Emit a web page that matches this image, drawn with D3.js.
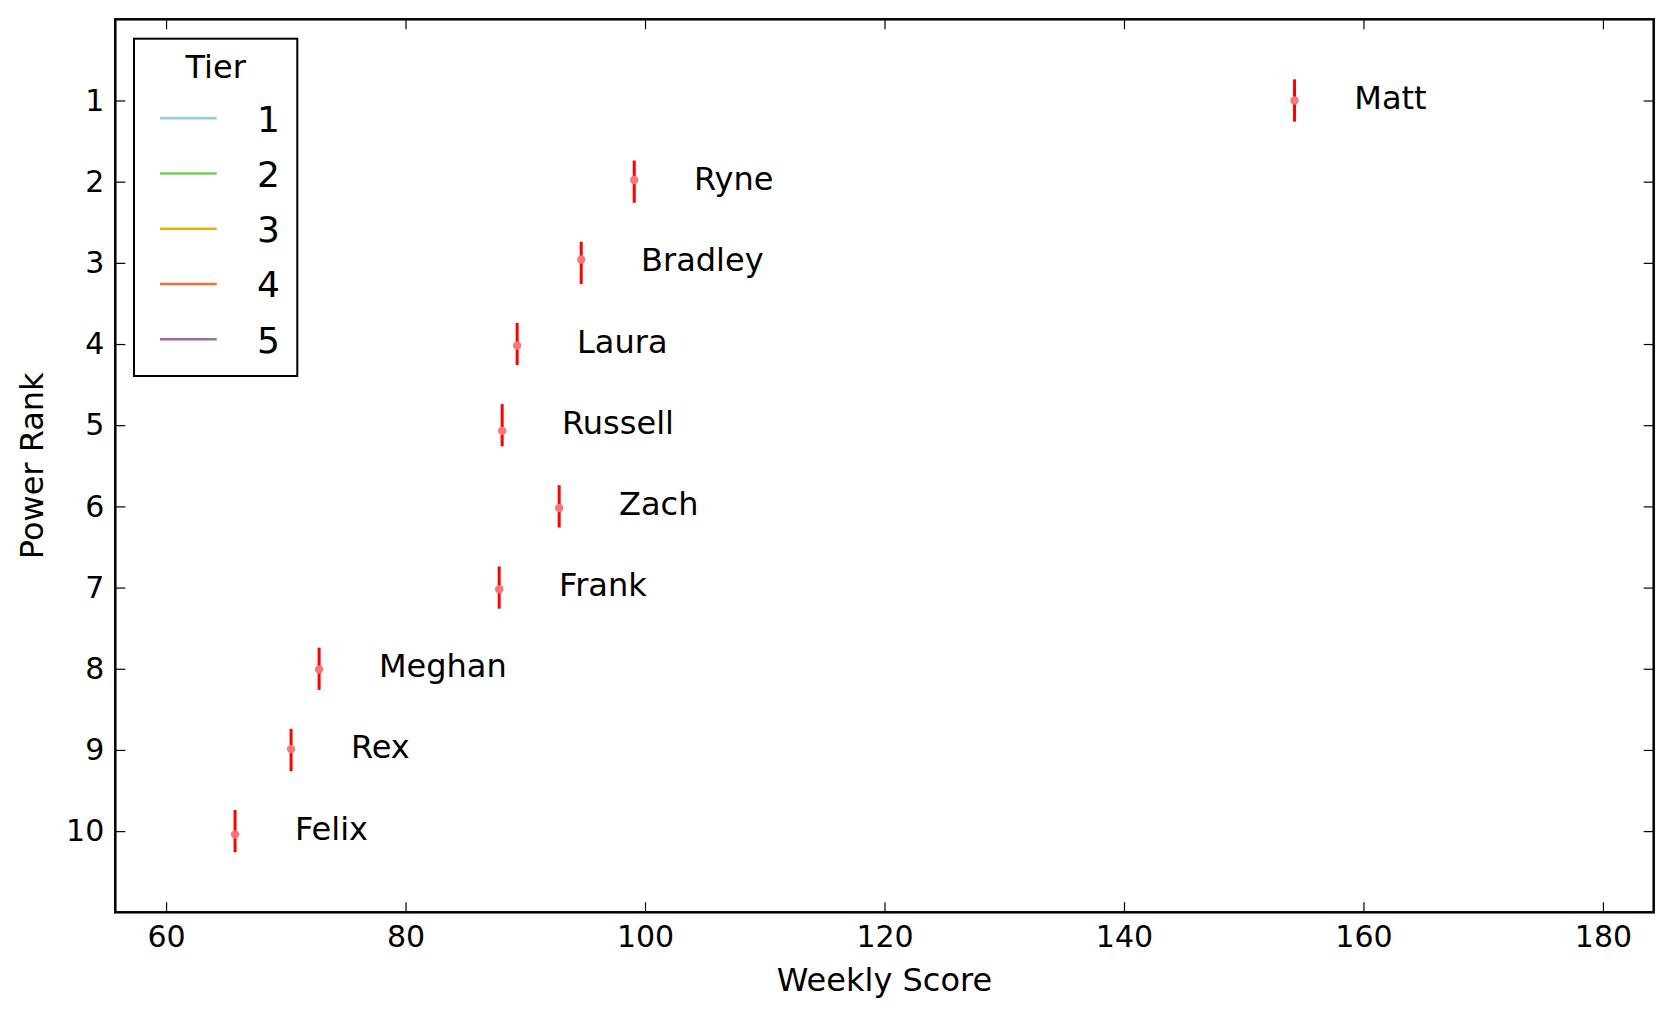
<!DOCTYPE html>
<html>
<head>
<meta charset="utf-8">
<script src="https://cdn.jsdelivr.net/npm/d3@7"></script>
<style>
    body { margin: 0; background: #fff; }
    text { font-family: "DejaVu Sans", sans-serif; }
</style>
</head>
<body>
<div id="rank-chart"><svg></svg></div>
<script>
// data
var names = ["Matt", "Ryne", "Bradley", "Laura", "Russell", "Zach", "Frank", "Meghan", "Rex", "Felix"];
var ranks = [1, 2, 3, 4, 5, 6, 7, 8, 9, 10];
var scores = [154.24, 99.1, 94.67, 89.32, 88.07, 92.83, 87.82, 72.78, 70.44, 65.76];
var dotRanks = [1.0, 1.98, 2.96, 4.02, 5.07, 6.02, 7.02, 8.01, 8.99, 10.04];
var rankErr = 0.26;
var tiers = ["1", "2", "3", "4", "5"];
var tierColors = ["#8ccdf5", "#78c85a", "#e0b400", "#ff6a33", "#a06ca0"];
var xTicks = [60, 80, 100, 120, 140, 160, 180];

var data = names.map(function (n, i) {
    return {name: n, rank: ranks[i], score: scores[i], dot: dotRanks[i]};
});

// set the dimensions and margins of the graph
var margin = {top: 19.3, right: 17.3, bottom: 104.7, left: 115.3},
    width = 1671 - margin.left - margin.right,
    height = 1017 - margin.top - margin.bottom;

// set the ranges
var x = d3.scaleLinear()
    .domain([d3.min(scores) - 10, d3.max(scores) + 30])
    .range([0, width]);
var y = d3.scaleLinear().domain([0, 11]).range([0, height]);

var svg = d3.select("#rank-chart").select("svg")
    .attr("width", width + margin.left + margin.right)
    .attr("height", height + margin.top + margin.bottom)
    .append("g")
    .attr("transform", "translate(" + margin.left + "," + margin.top + ")");

// axes, ticks pointing inward on all four sides
var xAxis = svg.append("g")
    .attr("transform", "translate(0," + height + ")")
    .call(d3.axisBottom(x).tickValues(xTicks).tickSize(-10).tickPadding(13));
var xTop = svg.append("g")
    .call(d3.axisTop(x).tickValues(xTicks).tickSize(-10).tickFormat(""));
var yAxis = svg.append("g")
    .call(d3.axisLeft(y).tickValues(ranks).tickSize(-10).tickPadding(11));
var yRight = svg.append("g")
    .attr("transform", "translate(" + width + ",0)")
    .call(d3.axisRight(y).tickValues(ranks).tickSize(-10).tickFormat(""));

[xAxis, xTop, yAxis, yRight].forEach(function (a) {
    a.select(".domain").remove();
    a.selectAll(".tick line").attr("stroke", "#000").attr("stroke-width", 1.2);
    a.selectAll(".tick text")
        .attr("font-family", "DejaVu Sans")
        .attr("font-size", 30)
        .attr("fill", "#000");
});

// error bars
svg.append("g").selectAll("line")
    .data(data)
    .enter().append("line")
    .attr("x1", function (d) { return x(d.score); })
    .attr("x2", function (d) { return x(d.score); })
    .attr("y1", function (d) { return y(d.rank - rankErr); })
    .attr("y2", function (d) { return y(d.rank + rankErr); })
    .attr("stroke", "#ff0000")
    .attr("stroke-width", 3);

// points
svg.append("g").selectAll("circle")
    .data(data)
    .enter().append("circle")
    .attr("cx", function (d) { return x(d.score); })
    .attr("cy", function (d) { return y(d.dot); })
    .attr("r", 4.2)
    .attr("fill", "#ff7575");

// name labels
svg.append("g").selectAll("text")
    .data(data)
    .enter().append("text")
    .attr("x", function (d) { return x(d.score + 5); })
    .attr("y", function (d) { return y(d.rank) + 8.5; })
    .attr("font-size", 32)
    .attr("fill", "#000")
    .text(function (d) { return d.name; });

// frame
svg.append("rect")
    .attr("width", width)
    .attr("height", height)
    .attr("fill", "none")
    .attr("stroke", "#000")
    .attr("stroke-width", 2.5);

// axis labels
svg.append("text")
    .attr("x", width / 2)
    .attr("y", height + 78.4)
    .attr("text-anchor", "middle")
    .attr("font-size", 32)
    .text("Weekly Score");

svg.append("text")
    .attr("transform", "translate(" + (42.5 - margin.left) + "," + (height / 2) + ") rotate(-90)")
    .attr("text-anchor", "middle")
    .attr("font-size", 32)
    .text("Power Rank");

// legend
var legend = svg.append("g")
    .attr("transform", "translate(" + (134 - margin.left) + "," + (38.7 - margin.top) + ")");

legend.append("rect")
    .attr("width", 163.3)
    .attr("height", 337.3)
    .attr("fill", "#fff")
    .attr("stroke", "#000")
    .attr("stroke-width", 2);

legend.append("text")
    .attr("x", 81.7)
    .attr("y", 39.6)
    .attr("text-anchor", "middle")
    .attr("font-size", 32)
    .text("Tier");

var rowY = d3.scalePoint().domain(tiers).range([79.6, 300.6]);

var rows = legend.selectAll(".row")
    .data(tiers)
    .enter().append("g")
    .attr("class", "row")
    .attr("transform", function (d) { return "translate(0," + rowY(d) + ")"; });

rows.append("line")
    .attr("x1", 26)
    .attr("x2", 82.7)
    .attr("stroke", function (d, i) { return tierColors[i]; })
    .attr("stroke-width", 2.5);

rows.append("text")
    .attr("x", 123)
    .attr("y", 13.3)
    .attr("font-size", 36)
    .text(function (d) { return d; });
</script>
</body>
</html>
